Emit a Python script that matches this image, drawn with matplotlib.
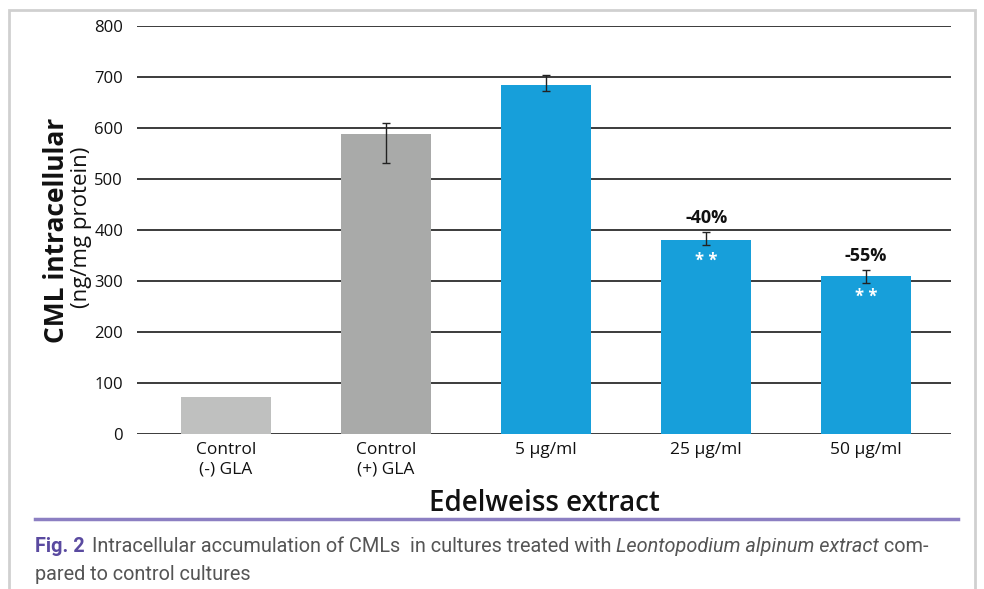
import matplotlib
matplotlib.use("Agg")
import matplotlib.pyplot as plt
from matplotlib.patches import Rectangle
from matplotlib.lines import Line2D

categories = ["Control\n(-) GLA", "Control\n(+) GLA", "5 µg/ml", "25 µg/ml", "50 µg/ml"]
values = [72, 588, 684, 381, 310]
err_lower = [0, 57, 12, 11, 14]
err_upper = [0, 22, 19, 15, 12]
bar_colors = ["#bfc0bf", "#a9aaa9", "#179fda", "#179fda", "#179fda"]
pct_labels = ["", "", "", "-40%", "-55%"]
sig_labels = ["", "", "", "* *", "* *"]
yticks = [0, 100, 200, 300, 400, 500, 600, 700, 800]

plt.rcParams['font.family'] = ['Open Sans', 'DejaVu Sans']

W, H = 984, 589
fig = plt.figure(figsize=(W/100, H/100), dpi=100)
ax = fig.add_axes([137/W, 1-434/H, (951-137)/W, (434-26)/H])

x = list(range(len(categories)))
ax.bar(x, values, width=0.5625, color=bar_colors, zorder=3)
ax.errorbar(x[1:], values[1:], yerr=[err_lower[1:], err_upper[1:]], fmt='none',
            ecolor='#222222', elinewidth=1.0, capsize=3, capthick=1.0, zorder=4)

for i in x:
    if pct_labels[i]:
        ax.text(i, values[i] + err_upper[i] + 10, pct_labels[i], ha='center', va='bottom',
                fontsize=13, fontweight='bold', color='#111111')
    if sig_labels[i]:
        ax.text(i, values[i] - 60, sig_labels[i], ha='center', va='bottom',
                fontsize=12, fontweight='bold', color='white', zorder=5)

ax.set_xlim(-0.556, 4.53)
ax.set_ylim(0, 800)
ax.set_yticks(yticks)
ax.set_yticklabels([str(v) for v in yticks], fontsize=12, color='#111111')
ax.set_xticks(x)
ax.set_xticklabels(categories, fontsize=12.5, color='#111111', linespacing=1.3)
ax.tick_params(axis='both', length=0, pad=6)
ax.tick_params(axis='y', pad=10)
ax.grid(axis='y', color='#1a1a1a', linewidth=1.2, zorder=0)
for s in ax.spines.values():
    s.set_visible(False)

ax.set_xlabel("Edelweiss extract", fontsize=20, fontweight='semibold', color='#111111', labelpad=8)

fig.text(57/W, 1-230/H, "CML intracellular", rotation=90, ha='center', va='center',
         fontsize=19, fontweight='bold', color='#111111')
fig.text(81/W, 1-227/H, "(ng/mg protein)", rotation=90, ha='center', va='center',
         fontsize=16, color='#111111')

# frame
fig.patches.append(Rectangle((9/W, -0.05), (975-9)/W, 1.05 - 10/H,
                             transform=fig.transFigure, fill=False,
                             edgecolor='#d0d0d0', linewidth=2))
fig.lines.append(Line2D([35/W, 958/W], [1-519/H, 1-519/H], transform=fig.transFigure,
                        color='#8c7fc2', linewidth=2.5))

cap_font = ['Roboto', 'DejaVu Sans']
cs = 14.3
fig.text(35/W, 1-547/H, "Fig. 2", ha='left', va='center', fontsize=cs, fontweight='bold',
         color='#5a4aa0', family=cap_font)
t0 = fig.text(92/W, 1-547/H, "Intracellular accumulation of CMLs  in cultures treated with ",
              ha='left', va='center', fontsize=cs, color='#555555', family=cap_font)
fig.text(35/W, 1-574/H, "pared to control cultures", ha='left', va='center',
         fontsize=cs, color='#555555', family=cap_font)
fig.canvas.draw()
r = fig.canvas.get_renderer()
bb = t0.get_window_extent(r)
ti = fig.text(bb.x1/W, 1-547/H, "Leontopodium alpinum extract", ha='left', va='center',
              fontsize=cs, color='#555555', style='italic', family=cap_font)
bb2 = ti.get_window_extent(r)
fig.text(bb2.x1/W, 1-547/H, " com-", ha='left', va='center', fontsize=cs,
         color='#555555', family=cap_font)

fig.savefig("out.png", dpi=100, facecolor='white')
